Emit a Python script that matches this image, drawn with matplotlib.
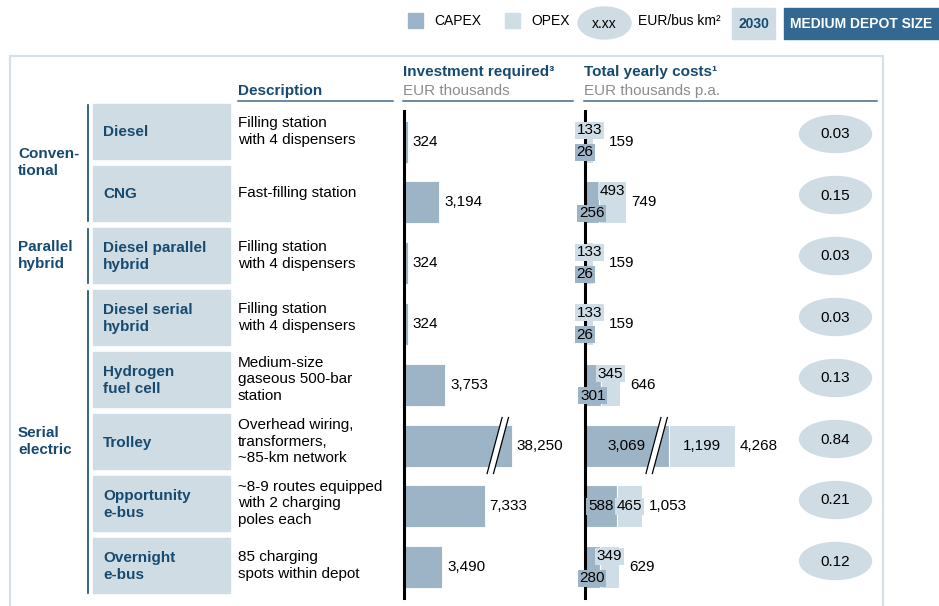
import matplotlib
matplotlib.use("Agg")
import matplotlib.pyplot as plt
from matplotlib.patches import Rectangle, Ellipse, Polygon

plt.rcParams["font.family"] = ["Liberation Sans", "DejaVu Sans"]

# values
groups = ["Conven-\ntional", "Parallel\nhybrid", "Serial\nelectric"]
group_rows = [(0, 1), (2, 2), (3, 7)]
technologies = ["Diesel", "CNG", "Diesel parallel\nhybrid", "Diesel serial\nhybrid",
                "Hydrogen\nfuel cell", "Trolley", "Opportunity\ne-bus", "Overnight\ne-bus"]
descriptions = ["Filling station\nwith 4 dispensers", "Fast-filling station",
                "Filling station\nwith 4 dispensers", "Filling station\nwith 4 dispensers",
                "Medium-size\ngaseous 500-bar\nstation",
                "Overhead wiring,\ntransformers,\n~85-km network",
                "~8-9 routes equipped\nwith 2 charging\npoles each",
                "85 charging\nspots within depot"]
investment = [324, 3194, 324, 324, 3753, 38250, 7333, 3490]
capex = [26, 256, 26, 26, 301, 3069, 588, 280]
opex = [133, 493, 133, 133, 345, 1199, 465, 349]
totals = [159, 749, 159, 159, 646, 4268, 1053, 629]
per_km = ["0.03", "0.15", "0.03", "0.03", "0.13", "0.84", "0.21", "0.12"]

W, H = 939, 606
PT = 72 / 100  # points per pixel

CAPEX_C = "#9db4c6"
OPEX_C = "#cfdde6"
BOX_C = "#cfdce4"
DARK = "#174a70"
GRAY = "#8c8c8c"
FRAME = "#d5e1e8"
FS = 11

# axis breaks for the trolley bars (drawing length, not data)
INV_CAP = 9800
COST_CAP = 1530

fig = plt.figure(figsize=(W / 100, H / 100), dpi=100)
lay = fig.add_axes([0, 0, 1, 1])
lay.set_xlim(0, W)
lay.set_ylim(H, 0)
lay.axis("off")

# frame
lay.plot([9.5, 9.5, 882.5, 882.5], [H, 56, 56, H], color=FRAME, lw=1.6, solid_joinstyle="miter")

# legend strip
lay.add_patch(Rectangle((408, 13), 15, 15, color=CAPEX_C))
lay.text(434, 21, "CAPEX", fontsize=10, va="center")
lay.add_patch(Rectangle((505, 13), 15, 15, color=OPEX_C))
lay.text(531, 21, "OPEX", fontsize=10, va="center")
lay.add_patch(Ellipse((604.5, 23), 53, 32, color=BOX_C))
lay.text(604.5, 23.5, "x.xx", fontsize=10, ha="center", va="center")
lay.text(638, 21, "EUR/bus km²", fontsize=10, va="center")
lay.add_patch(Rectangle((732, 8), 43, 30.5, color=BOX_C))
lay.text(753.5, 23.5, "2030", fontsize=10, ha="center", va="center", color=DARK, weight="bold")
lay.add_patch(Rectangle((784, 8), 155, 30.5, color="#336892"))
lay.text(861.5, 23.5, "MEDIUM DEPOT SIZE", fontsize=10, ha="center", va="center",
         color="white", weight="bold")

# column headers
lay.text(238, 91, "Description", fontsize=FS, weight="bold", color=DARK, va="center")
lay.text(403, 72, "Investment required³", fontsize=FS, weight="bold", color=DARK, va="center")
lay.text(403, 91, "EUR thousands", fontsize=FS, color=GRAY, va="center")
lay.text(584, 72, "Total yearly costs¹", fontsize=FS, weight="bold", color=DARK, va="center")
lay.text(584, 91, "EUR thousands p.a.", fontsize=FS, color=GRAY, va="center")
for x0, x1 in [(238, 393), (403, 573), (584, 877)]:
    lay.plot([x0, x1], [101, 101], color="#3f6b8b", lw=1.1)

# row boxes, descriptions
ROW_TOP, ROW_PITCH, ROW_BOX = 104, 62, 55
n = len(technologies)
for i in range(n):
    y0 = ROW_TOP + ROW_PITCH * i
    yc = y0 + ROW_BOX / 2
    lay.add_patch(Rectangle((93, y0), 137, ROW_BOX, color=BOX_C))
    lay.text(103, yc + 1, technologies[i], fontsize=FS, weight="bold", color=DARK,
             va="center", linespacing=1.25)
    lay.text(238, yc, descriptions[i], fontsize=FS, va="center", linespacing=1.25)

for label, (a, b) in zip(groups, group_rows):
    top = ROW_TOP + ROW_PITCH * a
    bot = ROW_TOP + ROW_PITCH * b + ROW_BOX
    lay.plot([88, 88], [top + 1, bot], color=DARK, lw=1.2)
    lay.text(18, (top + bot) / 2, label, fontsize=FS, weight="bold", color=DARK,
             va="center", linespacing=1.2)

# EUR per bus km ellipses
for i, v in enumerate(per_km):
    yc = 134 + 61 * i
    lay.add_patch(Ellipse((835.5, yc), 72, 37, color=BOX_C))
    lay.text(835.5, yc + 0.5, v, fontsize=FS, ha="center", va="center")

# bar panels
BAR_Y0, BAR_PITCH = 141.5, 60.8
BAR_H = 42 / BAR_PITCH


def axes_px(x0, x1, px_per_unit):
    y0 = BAR_Y0 - BAR_PITCH / 2
    y1 = BAR_Y0 + BAR_PITCH * (n - 0.5)
    ax = fig.add_axes([x0 / W, 1 - y1 / H, (x1 - x0) / W, (y1 - y0) / H])
    ax.patch.set_visible(False)
    for s in ["top", "right", "bottom"]:
        ax.spines[s].set_visible(False)
    ax.spines["left"].set_linewidth(2.2)
    ax.set_xticks([])
    ax.set_yticks([])
    ax.set_xlim(0, (x1 - x0) / px_per_unit)
    ax.set_ylim(n - 0.5, -0.5)
    return ax


def draw_break(ax, xc, y, ppu):
    dx, g = 7.5 / ppu, 3.2 / ppu
    dy = 28 / BAR_PITCH
    ax.add_patch(Polygon([(xc - dx - g, y + dy), (xc + dx - g, y - dy),
                          (xc + dx + g, y - dy), (xc - dx + g, y + dy)],
                         closed=True, fc="white", ec="none", zorder=3))
    for s in (-g, g):
        ax.plot([xc - dx + s, xc + dx + s], [y + dy, y - dy], color="black", lw=0.9, zorder=4)


INV_PPU = 0.011
ax_inv = axes_px(404, 574, INV_PPU)
for i, v in enumerate(investment):
    w = min(v, INV_CAP)
    ax_inv.barh(i, w, height=BAR_H, color=CAPEX_C, edgecolor="white", linewidth=0.6)
    ax_inv.annotate(f"{v:,}", xy=(w, i), xytext=(5 * PT, 0), textcoords="offset points",
                    va="center", fontsize=FS)
    if v > INV_CAP:
        draw_break(ax_inv, INV_CAP - 14 / INV_PPU, i, INV_PPU)

COST_PPU = 0.055
ax_cost = axes_px(584.5, 800, COST_PPU)
opex_labels = []
for i in range(n):
    c = min(capex[i], COST_CAP)
    o = opex[i]
    ax_cost.barh(i, c, height=BAR_H, color=CAPEX_C, edgecolor="white", linewidth=0.8)
    ax_cost.barh(i, o, left=c, height=BAR_H, color=OPEX_C, edgecolor="white", linewidth=0.8)
    if capex[i] >= 400:
        y_o = y_c = i
    else:
        y_o, y_c = i - 11 / BAR_PITCH, i + 11 / BAR_PITCH
    ax_cost.text(c / 2, y_c, f"{capex[i]:,}", fontsize=FS, ha="center", va="center", zorder=5,
                 bbox=dict(boxstyle="square,pad=0.1", fc=CAPEX_C, ec="none"))
    t = ax_cost.text(c + o / 2, y_o, f"{o:,}", fontsize=FS, ha="center", va="center", zorder=5,
                     bbox=dict(boxstyle="square,pad=0.1", fc=OPEX_C, ec="none"))
    opex_labels.append(t)
    if capex[i] > COST_CAP:
        draw_break(ax_cost, COST_CAP - 12 / COST_PPU, i, COST_PPU)

fig.canvas.draw()
to_data = ax_cost.transData.inverted()
for i, t in enumerate(opex_labels):
    right = t.get_bbox_patch().get_window_extent().x1
    x_lab = to_data.transform((right, 0))[0]
    x_end = max(min(capex[i], COST_CAP) + opex[i], x_lab)
    ax_cost.annotate(f"{totals[i]:,}", xy=(x_end, i), xytext=(5 * PT, 0),
                     textcoords="offset points", va="center", fontsize=FS,
                     annotation_clip=False)

fig.savefig("out.png", dpi=100)
